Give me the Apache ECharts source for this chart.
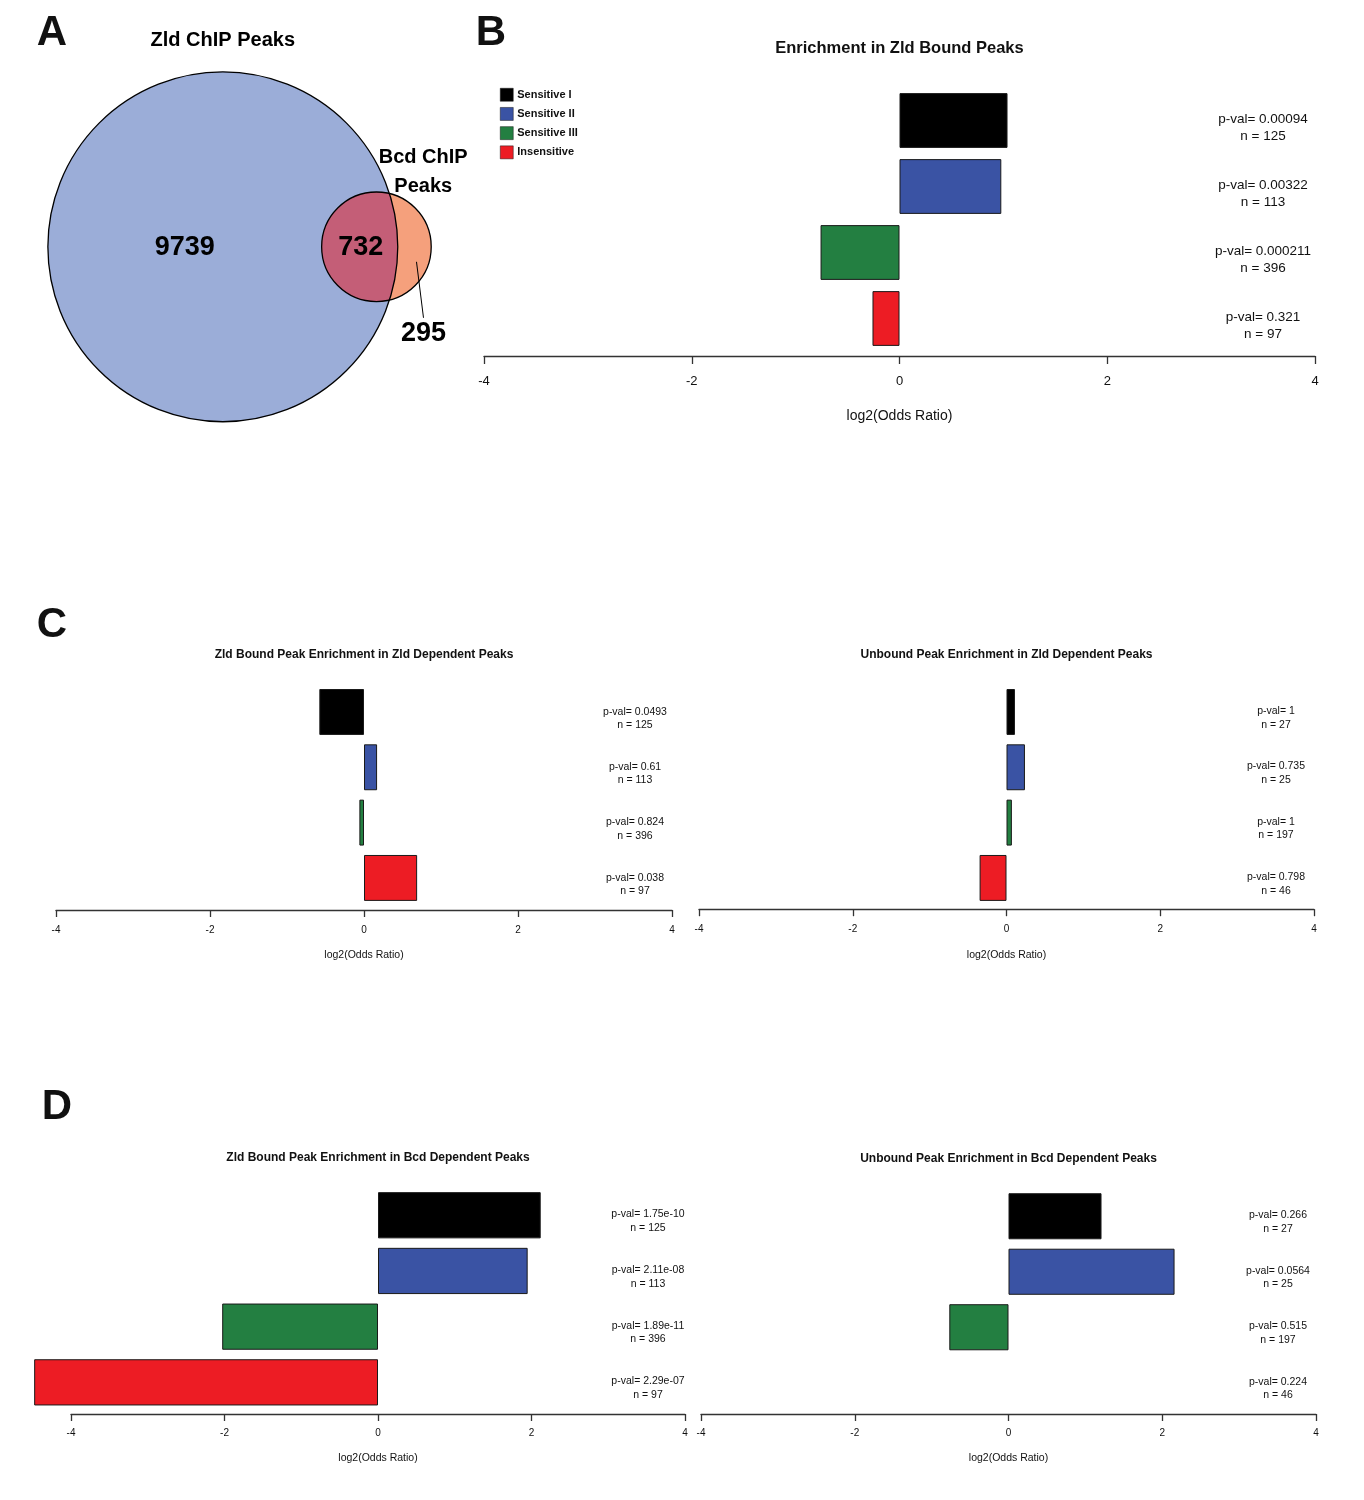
<!DOCTYPE html>
<html><head><meta charset="utf-8">
<script src="https://cdn.jsdelivr.net/npm/echarts@6/dist/echarts.min.js"></script>
<style>html,body{margin:0;padding:0;background:#fff}#c{width:1364px;height:1500px}</style>
</head><body><div id="c"></div>
<script>
// ---------------- DATA ----------------
const categories = ['Sensitive I', 'Sensitive II', 'Sensitive III', 'Insensitive'];
const barColors = ['#000000', '#3A53A4', '#237F41', '#ED1C24'];
const xTickValues = [-4, -2, 0, 2, 4];

const vennNames = ['Zld ChIP Peaks', 'Bcd ChIP Peaks'];
const vennCounts = [9739, 732, 295]; // Zld only, both, Bcd only

const panelLetters = ['A', 'B', 'C', 'D'];
const panelTitles = [
  'Enrichment in Zld Bound Peaks',
  'Zld Bound Peak Enrichment in Zld Dependent Peaks',
  'Unbound Peak Enrichment in Zld Dependent Peaks',
  'Zld Bound Peak Enrichment in Bcd Dependent Peaks',
  'Unbound Peak Enrichment in Bcd Dependent Peaks'
];
const axisName = 'log2(Odds Ratio)';

const log2OR_B = [1.04, 0.98, -0.76, -0.26];
const pval_B = ['0.00094', '0.00322', '0.000211', '0.321'];
const n_B = [125, 113, 396, 97];

const log2OR_C1 = [-0.58, 0.17, -0.06, 0.69];
const pval_C1 = ['0.0493', '0.61', '0.824', '0.038'];
const n_C1 = [125, 113, 396, 97];

const log2OR_C2 = [0.11, 0.24, 0.07, -0.35];
const pval_C2 = ['1', '0.735', '1', '0.798'];
const n_C2 = [27, 25, 197, 46];

const log2OR_D1 = [2.12, 1.95, -2.03, -4.48];
const pval_D1 = ['1.75e-10', '2.11e-08', '1.89e-11', '2.29e-07'];
const n_D1 = [125, 113, 396, 97];

const log2OR_D2 = [1.21, 2.16, -0.77, null];
const pval_D2 = ['0.266', '0.0564', '0.515', '0.224'];
const n_D2 = [27, 25, 197, 46];

// ---------------- LAYOUT ----------------
const FF = 'Liberation Sans, Arial, Helvetica, sans-serif';
const panels = [
  {vals: log2OR_B, p: pval_B, n: n_B, title: panelTitles[0],
   grid: {left: 484, top: 87.5, width: 831, height: 264}, off: 4.5, pm: -52, shift: 7.5,
   fs: 13, pfs: 13.5, plh: 17, tick: 8, lm: 19, ng: 53, nfs: 14, ty: 48, tfs: 16.5},
  {vals: log2OR_C1, p: pval_C1, n: n_C1, title: panelTitles[1],
   grid: {left: 56, top: 684.3, width: 616, height: 221.3}, off: 4.4, pm: -37, shift: 6.5,
   fs: 10, pfs: 10.5, plh: 13.5, tick: 7, lm: 15, ng: 40, nfs: 10.5, ty: 655, tfs: 12},
  {vals: log2OR_C2, p: pval_C2, n: n_C2, title: panelTitles[2],
   grid: {left: 699, top: 684.3, width: 615, height: 221.3}, off: 3.6, pm: -38, shift: 6,
   fs: 10, pfs: 10.5, plh: 13.5, tick: 7, lm: 15, ng: 40, nfs: 10.5, ty: 655, tfs: 12},
  {vals: log2OR_D1, p: pval_D1, n: n_D1, title: panelTitles[3],
   grid: {left: 71, top: 1187.4, width: 614, height: 222.8}, off: 3.8, pm: -37, shift: 6,
   fs: 10, pfs: 10.5, plh: 13.5, tick: 7, lm: 14, ng: 39, nfs: 10.5, ty: 1158, tfs: 12},
  {vals: log2OR_D2, p: pval_D2, n: n_D2, title: panelTitles[4],
   grid: {left: 701, top: 1188.5, width: 615, height: 222}, off: 3.5, pm: -38, shift: 6,
   fs: 10, pfs: 10.5, plh: 13.5, tick: 7, lm: 14, ng: 39, nfs: 10.5, ty: 1159, tfs: 12}
];

// ---------------- VENN GEOMETRY ----------------
function lensArea(R, r, d) {
  if (d >= R + r) return 0;
  if (d <= Math.abs(R - r)) return Math.PI * Math.min(R, r) ** 2;
  const a = r * r * Math.acos((d * d + r * r - R * R) / (2 * d * r));
  const b = R * R * Math.acos((d * d + R * R - r * r) / (2 * d * R));
  const c = 0.5 * Math.sqrt((-d + r + R) * (d + r - R) * (d - r + R) * (d + r + R));
  return a + b - c;
}
function solveD(R, r, target) {
  let lo = Math.abs(R - r), hi = R + r;
  for (let k = 0; k < 100; k++) {
    const mid = (lo + hi) / 2;
    if (lensArea(R, r, mid) > target) lo = mid; else hi = mid;
  }
  return (lo + hi) / 2;
}

function vennRender(params, api) {
  const R = Math.sqrt((vennCounts[0] + vennCounts[1]) / Math.PI);
  const r = Math.sqrt((vennCounts[1] + vennCounts[2]) / Math.PI);
  const d = solveD(R, r, vennCounts[1]);
  const c0 = api.coord([0, 0]);
  const c1 = api.coord([d, 0]);
  const k = api.size([1, 1])[0];
  const Rp = R * k, rp = r * k;
  const xi = (d * d + R * R - r * r) / (2 * d);
  const yi = Math.sqrt(Math.max(0, R * R - xi * xi));
  const th = Math.atan2(yi, xi - d);
  const ph = Math.atan2(yi, xi);
  const pts = [];
  const N = 120;
  for (let i = 0; i <= N; i++) {
    const t = th + (2 * Math.PI - 2 * th) * i / N;
    pts.push([c1[0] + rp * Math.cos(t), c1[1] - rp * Math.sin(t)]);
  }
  for (let i = 0; i <= N; i++) {
    const t = -ph + 2 * ph * i / N;
    pts.push([c0[0] + Rp * Math.cos(t), c0[1] - Rp * Math.sin(t)]);
  }
  const big = 'bold 27px ' + FF;
  const mid = 'bold 20px ' + FF;
  const xOnlyA = ((c0[0] - Rp) + (c1[0] - rp)) / 2;
  const xBoth = ((c1[0] - rp) + (c0[0] + Rp)) / 2;
  const xOnlyB = ((c0[0] + Rp) + (c1[0] + rp)) / 2;
  return {
    type: 'group',
    children: [
      {type: 'circle', shape: {cx: c0[0], cy: c0[1], r: Rp}, style: {fill: '#9BADD8', stroke: null}},
      {type: 'circle', shape: {cx: c1[0], cy: c1[1], r: rp}, style: {fill: '#F5A07C', stroke: null}},
      {type: 'polygon', shape: {points: pts}, style: {fill: '#C45E77', stroke: null}},
      {type: 'circle', shape: {cx: c0[0], cy: c0[1], r: Rp}, style: {fill: null, stroke: '#000', lineWidth: 1.3}},
      {type: 'circle', shape: {cx: c1[0], cy: c1[1], r: rp}, style: {fill: null, stroke: '#000', lineWidth: 1.3}},
      {type: 'text', style: {text: String(vennCounts[0]), x: xOnlyA, y: c0[1] + 1, font: big, fill: '#000', align: 'center', verticalAlign: 'middle'}},
      {type: 'text', style: {text: String(vennCounts[1]), x: xBoth + 1, y: c0[1] + 1, font: big, fill: '#000', align: 'center', verticalAlign: 'middle'}},
      {type: 'line', shape: {x1: xOnlyB + 2, y1: c0[1] + 15, x2: xOnlyB + 9, y2: c0[1] + 71}, style: {stroke: '#000', lineWidth: 1}},
      {type: 'text', style: {text: String(vennCounts[2]), x: xOnlyB + 9, y: c0[1] + 87, font: big, fill: '#000', align: 'center', verticalAlign: 'middle'}},
      {type: 'text', style: {text: vennNames[0], x: c0[0], y: c0[1] - Rp - 31, font: mid, fill: '#000', align: 'center', verticalAlign: 'middle'}},
      {type: 'text', style: {text: vennNames[1].replace(' Peaks', ''), x: c1[0] + rp - 8, y: c1[1] - rp - 35, font: mid, fill: '#000', align: 'center', verticalAlign: 'middle'}},
      {type: 'text', style: {text: 'Peaks', x: c1[0] + rp - 8, y: c1[1] - rp - 6, font: mid, fill: '#000', align: 'center', verticalAlign: 'middle'}}
    ]
  };
}

// ---------------- OPTION ----------------
const grids = [], xAxes = [], yAxes = [], series = [], graphics = [];
panels.forEach((P, i) => {
  grids.push(Object.assign({containLabel: false, outerBoundsMode: 'none'}, P.grid));
  xAxes.push({
    type: 'value', gridIndex: i, min: xTickValues[0], max: xTickValues[xTickValues.length - 1],
    interval: xTickValues[1] - xTickValues[0], position: 'bottom', offset: P.off,
    axisLine: {show: true, onZero: false, lineStyle: {color: '#333', width: 1.3}},
    axisTick: {show: true, length: P.tick, lineStyle: {color: '#333', width: 1.3}},
    axisLabel: {color: '#111', fontSize: P.fs, fontFamily: FF, margin: P.lm, showMinLabel: true, showMaxLabel: true},
    splitLine: {show: false},
    name: axisName, nameLocation: 'middle', nameGap: P.ng,
    nameTextStyle: {color: '#111', fontSize: P.nfs, fontFamily: FF}
  });
  yAxes.push({
    type: 'category', gridIndex: i, inverse: true, data: categories,
    axisLine: {show: false}, axisTick: {show: false}, axisLabel: {show: false}, splitLine: {show: false}
  });
  categories.forEach((cat, j) => {
    series.push({
      type: 'bar', name: cat, xAxisIndex: i, yAxisIndex: i,
      data: categories.map((c, m) => (m === j && P.vals[m] != null) ? P.vals[m] : '-'),
      barGap: '-100%', barCategoryGap: '17%', clip: false, silent: true,
      itemStyle: {color: barColors[j], borderColor: '#1a1a1a', borderWidth: 1}
    });
  });
  graphics.push({type: 'text', x: P.grid.left + P.grid.width / 2, y: P.ty,
    style: {text: P.title, font: 'bold ' + P.tfs + 'px ' + FF, fill: '#111', align: 'center', verticalAlign: 'middle'}});
});

// Venn grid (index 5)
grids.push({left: 41, top: 65, width: 400, height: 363.6, containLabel: false, outerBoundsMode: 'none'});
xAxes.push({type: 'value', gridIndex: 5, min: -60, max: 72, show: false});
yAxes.push({type: 'value', gridIndex: 5, min: -60, max: 60, show: false});
series.push({type: 'custom', coordinateSystem: 'cartesian2d', xAxisIndex: 5, yAxisIndex: 5,
  data: [[0, 0]], renderItem: vennRender, silent: true, clip: false, z: 1});

// p-value label grids (index 6..10), slightly lower than the bar grids
panels.forEach((P, i) => {
  const g = 6 + i;
  grids.push({left: P.grid.left, width: P.grid.width, top: P.grid.top + P.shift, height: P.grid.height,
    containLabel: false, outerBoundsMode: 'none'});
  xAxes.push({type: 'value', gridIndex: g, min: 0, max: 1, show: false});
  yAxes.push({
    type: 'category', gridIndex: g, inverse: true, position: 'right',
    data: P.p.map((pv, j) => 'p-val= ' + pv + '\nn = ' + P.n[j]),
    axisLine: {show: false}, axisTick: {show: false}, splitLine: {show: false},
    axisLabel: {interval: 0, margin: P.pm, align: 'center', color: '#111', fontSize: P.pfs,
      fontFamily: FF, lineHeight: P.plh}
  });
});

const letterPos = [[52, 33], [491, 33], [52, 625], [57, 1107]];
panelLetters.forEach((L, i) => {
  graphics.push({type: 'text', x: letterPos[i][0], y: letterPos[i][1],
    style: {text: L, font: 'bold 42px ' + FF, fill: '#111', align: 'center', verticalAlign: 'middle'}});
});

const chart = echarts.init(document.getElementById('c'), null, {renderer: 'canvas'});
chart.setOption({
  backgroundColor: '#ffffff',
  animation: false,
  grid: grids, xAxis: xAxes, yAxis: yAxes, series: series,
  legend: {
    show: true, orient: 'vertical', left: 500, top: 88, padding: 0,
    itemWidth: 13, itemHeight: 13, itemGap: 5.7, selectedMode: false, icon: 'rect',
    data: categories.map((c, j) => ({name: c, itemStyle: {color: barColors[j], borderColor: '#1a1a1a', borderWidth: 0.5}})),
    textStyle: {color: '#111', fontSize: 11, fontWeight: 'bold', fontFamily: FF, padding: [0, 0, 0, -1]}
  },
  graphic: graphics
});
</script></body></html>
